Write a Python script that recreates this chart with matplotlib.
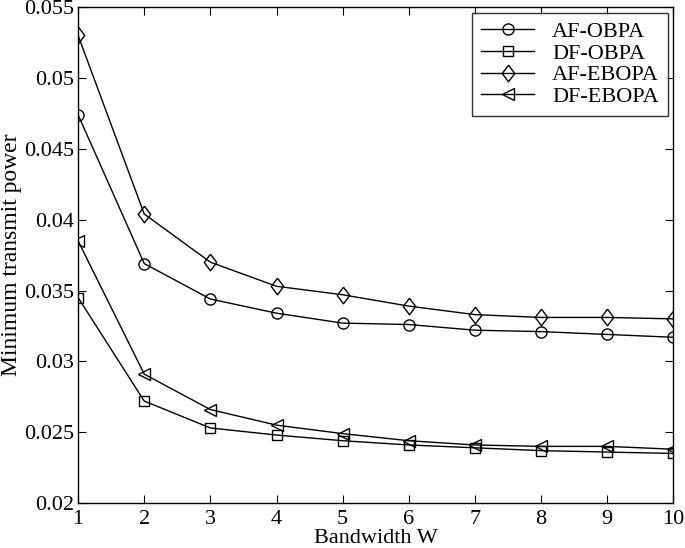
import matplotlib
matplotlib.use("Agg")
import matplotlib.pyplot as plt

plt.rcParams['font.family'] = ['Liberation Serif', 'DejaVu Serif']

W = [1, 2, 3, 4, 5, 6, 7, 8, 9, 10]
af_obpa = [0.0474, 0.0369, 0.0344, 0.0334, 0.0327, 0.0326, 0.0322, 0.0321, 0.0319, 0.0317]
df_obpa = [0.0345, 0.0272, 0.0253, 0.0248, 0.0244, 0.0241, 0.0239, 0.0237, 0.0236, 0.0235]
af_ebopa = [0.0530, 0.0404, 0.0370, 0.0353, 0.0347, 0.0339, 0.0333, 0.0331, 0.0331, 0.0330]
df_ebopa = [0.0385, 0.0291, 0.0266, 0.0255, 0.0249, 0.0244, 0.0241, 0.0240, 0.0240, 0.0238]

# slightly narrow diamond like the original
diamond = [(0, 1), (0.75, 0), (0, -1), (-0.75, 0), (0, 1)]

fig = plt.figure(figsize=(6.85, 5.48), dpi=100)
ax = fig.add_axes([0.114, 0.082, 0.869, 0.905])

kw = dict(color='black', linewidth=1.0, markersize=8, markerfacecolor='none',
          markeredgecolor='black', markeredgewidth=1.0)
ax.plot(W, af_obpa, marker='o', label='AF-OBPA', **kw)
ax.plot(W, df_obpa, marker='s', label='DF-OBPA', **dict(kw, markersize=7))
ax.plot(W, af_ebopa, marker=diamond, label='AF-EBOPA', **dict(kw, markersize=12))
ax.plot(W, df_ebopa, marker='<', label='DF-EBOPA', **kw)

ax.set_xlim(1, 10)
ax.set_ylim(0.02, 0.055)
ax.set_xticks(W)
ax.set_yticks([0.02, 0.025, 0.03, 0.035, 0.04, 0.045, 0.05, 0.055])
ax.set_yticklabels(['0.02', '0.025', '0.03', '0.035', '0.04', '0.045', '0.05', '0.055'])
ax.tick_params(direction='in', top=True, right=True, labelsize=16, length=6)
ax.tick_params(axis='x', pad=5)
ax.tick_params(axis='y', pad=3)
for s in ax.spines.values():
    s.set_linewidth(1.0)

ax.set_xlabel('Bandwidth W', fontsize=16, labelpad=0)
ax.set_ylabel('Minimum transmit power', fontsize=17, labelpad=1)

leg = ax.legend(loc='upper right', fontsize=16, frameon=True, fancybox=False,
                edgecolor='black', handlelength=2.4, borderaxespad=0.25,
                labelspacing=0.05, handletextpad=0.8, borderpad=0.4)
leg.get_frame().set_linewidth(1.0)

fig.savefig('out.png', dpi=100)
